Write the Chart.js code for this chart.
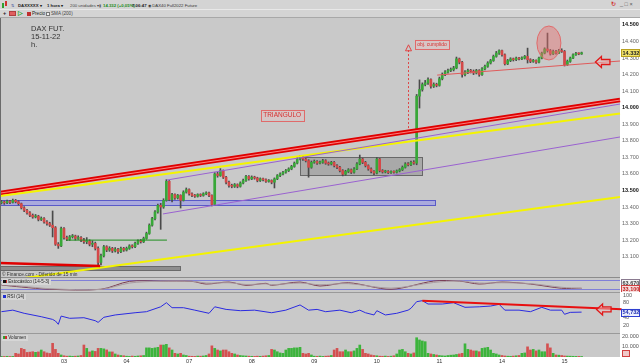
<!DOCTYPE html>
<html><head><meta charset="utf-8">
<script src="https://cdn.jsdelivr.net/npm/chart.js@4.4.1/dist/chart.umd.min.js"></script>
<style>
html,body{margin:0;padding:0}
body{width:640px;height:364px;overflow:hidden;background:#c9c9c9;position:relative;font-family:"Liberation Sans",Arial,sans-serif}
canvas{position:absolute;left:0}
.a{position:absolute}
.t{position:absolute;white-space:nowrap;font-size:5.5px;line-height:7px;color:#222}
.r1{font-size:4.3px;top:1.5px}
</style></head><body>
<div class="a" style="left:0;top:0;width:640px;height:18px;background:#d4d4d4"></div>
<div class="a" style="left:0;top:9px;width:640px;height:1px;background:#e8e8e8"></div>
<div class="a" style="left:0;top:17px;width:640px;height:1px;background:#a8a8a8"></div>
<div class="a" style="left:2px;top:3px;width:2px;height:5px;background:#30a030"></div>
<div class="a" style="left:5px;top:1px;width:2px;height:5px;background:#d03030"></div>
<div class="t r1" style="left:11px;color:#5060a0">&#8645;</div>
<div class="t r1" style="left:18px;font-weight:bold">DAXXXXX &#9662;</div>
<div class="t r1" style="left:47px;font-weight:bold">1 hora &#9662;</div>
<div class="t r1" style="left:70px;color:#444">200 unidades &#9662;</div>
<div class="t r1" style="left:99px;color:#666">&#9646;</div>
<div class="t r1" style="left:103px;color:#1a8a1a;font-weight:bold">14.332 (+0,05%)</div>
<div class="t r1" style="left:132px;font-weight:bold">7.06:47</div>
<div class="t r1" style="left:148px;color:#333">&#9673; DAX40 Full2022 Future</div>
<div class="t" style="left:3px;top:10px;font-weight:bold">+</div>
<div class="a" style="left:9px;top:11px;width:7px;height:5px;background:#e06060;border:1px solid #b04040;box-sizing:border-box"></div>
<div class="t" style="left:18px;top:10px;color:#20a020;font-weight:bold">&#9655;</div>
<div class="a" style="left:27px;top:12px;width:4px;height:4px;background:#c03030"></div>
<div class="t" style="left:32px;top:10px;font-size:4.6px">Precio</div>
<div class="a" style="left:46px;top:12px;width:4px;height:4px;border:1px solid #777;box-sizing:border-box;background:#eee"></div>
<div class="t" style="left:51px;top:10px;color:#444;font-size:4.6px">SMA (200)</div>
<div class="t" style="left:611px;top:1px;color:#d03030;font-weight:bold">&#8635;</div>
<div class="t" style="left:620px;top:1px;color:#555">_ &#9633; &#215;</div>

<canvas id="cMain" width="640" height="260" style="top:18px"></canvas>
<canvas id="cSto" width="640" height="14" style="top:278px"></canvas>
<canvas id="cRsi" width="640" height="41" style="top:292px"></canvas>
<canvas id="cVol" width="640" height="31" style="top:333px"></canvas>

<div class="a" style="left:0;top:277px;width:620px;height:1px;background:#8c8c8c"></div>
<div class="a" style="left:0;top:292px;width:620px;height:1px;background:#9a9a9a"></div>
<div class="a" style="left:0;top:333px;width:620px;height:1px;background:#9a9a9a"></div>
<div class="a" style="left:0;top:18px;width:1px;height:339px;background:#6a6a6a"></div>

<div class="t" style="left:31px;top:25px;font-size:7.5px;line-height:8px;color:#333">DAX FUT.</div>
<div class="t" style="left:31px;top:33px;font-size:7.5px;line-height:8px;color:#333">15-11-22</div>
<div class="t" style="left:31px;top:41px;font-size:7.5px;line-height:8px;color:#333">h.</div>
<div class="t" style="left:2px;top:271px;font-size:4.8px;color:#333">&#169; Finance.com - Diferido de 15 min</div>
<div class="t" style="left:2px;top:279px;font-size:4.6px;line-height:6px;background:#d6d6d6;padding:0 2px 0 1px"><span style="display:inline-block;width:3px;height:3px;background:#111;border-right:1px solid #c03030"></span> Estoc&#225;stico (14-5-3)</div>
<div class="t" style="left:2px;top:294px;font-size:4.6px;line-height:6px;background:#d6d6d6;padding:0 2px 0 1px"><span style="display:inline-block;width:3px;height:3px;background:#2030d0"></span> RSI (14)</div>
<div class="t" style="left:2px;top:335px;font-size:4.6px;line-height:6px;background:#d6d6d6;padding:0 2px 0 1px"><span style="display:inline-block;width:2px;height:3px;background:#30a030"></span><span style="display:inline-block;width:2px;height:3px;background:#d03030"></span> Volumen</div>

<script>
// ---------------- data ----------------
const dayTickIdx = [22, 44, 66, 88, 110, 132, 154, 176, 198];
const dayTickLabels = ['03', '04', '07', '08', '09', '10', '11', '14', '15'];

const opens = [
13425,13430,13425,13435,13428,13440,13432,13420,13395,13380,
13365,13350,13340,13345,13325,13330,13310,13300,13290,13275,
13175,13165,13270,13215,13205,13220,13225,13210,13215,13200,
13190,13195,13175,13180,13150,13065,13105,13160,13140,13150,
13135,13145,13130,13150,13140,13150,13165,13160,13180,13195,
13190,13210,13240,13290,13330,13370,13410,13400,13440,13555,
13445,13475,13455,13470,13440,13490,13505,13480,13470,13465,
13475,13470,13480,13485,13470,13415,13600,13590,13620,13580,
13550,13530,13525,13535,13525,13545,13560,13585,13570,13580,
13575,13560,13570,13565,13555,13560,13550,13570,13590,13600,
13610,13620,13630,13645,13665,13690,13700,13690,13680,13640,
13670,13675,13665,13670,13680,13665,13660,13670,13650,13640,
13620,13598,13615,13625,13610,13630,13660,13690,13670,13650,
13630,13615,13605,13690,13620,13612,13615,13608,13612,13610,
13618,13625,13640,13660,13655,13670,13665,14070,14110,14140,
14150,14170,14130,14140,14135,14175,14200,14215,14225,14230,
14240,14295,14275,14200,14215,14225,14220,14210,14225,14200,
14235,14250,14270,14285,14310,14330,14345,14320,14265,14285,
14295,14290,14300,14295,14300,14310,14290,14280,14285,14275,
14300,14330,14355,14345,14325,14340,14330,14345,14340,14260,
14280,14300,14320,14328,14325];
const highs = [
13440,13436,13442,13440,13448,13446,13438,13424,13402,13386,
13372,13358,13355,13350,13340,13336,13318,13308,13376,13282,
13185,13278,13275,13224,13228,13234,13230,13226,13222,13210,
13215,13202,13196,13188,13160,13115,13168,13166,13160,13156,
13155,13150,13158,13156,13158,13172,13172,13188,13202,13204,
13218,13248,13298,13338,13378,13418,13422,13450,13565,13560,
13482,13480,13476,13474,13498,13515,13510,13486,13476,13480,
13480,13486,13492,13490,13474,13608,13610,13632,13624,13586,
13556,13538,13542,13540,13552,13568,13592,13590,13588,13586,
13580,13576,13575,13570,13566,13564,13576,13596,13606,13616,
13627,13637,13652,13672,13698,13712,13708,13696,13686,13678,
13684,13680,13678,13688,13686,13672,13676,13675,13656,13646,
13626,13622,13632,13630,13638,13668,13714,13695,13676,13655,
13636,13620,13698,13694,13626,13622,13620,13618,13618,13624,
13632,13648,13668,13668,13678,13680,14080,14168,14150,14165,
14180,14175,14150,14148,14185,14210,14224,14234,14240,14250,
14306,14300,14280,14225,14234,14232,14228,14232,14230,14242,
14258,14278,14292,14318,14340,14350,14348,14325,14292,14302,
14300,14306,14304,14308,14316,14360,14296,14292,14290,14306,
14336,14362,14451,14352,14348,14346,14352,14356,14346,14288,
14306,14326,14334,14332,14336];
const lows = [
13418,13416,13420,13420,13424,13425,13412,13388,13372,13356,
13342,13332,13334,13316,13318,13302,13290,13282,13219,13168,
13150,13160,13205,13196,13198,13212,13200,13204,13190,13180,
13178,13165,13160,13140,13040,13050,13098,13130,13132,13125,
13128,13120,13124,13132,13134,13144,13152,13155,13174,13182,
13185,13205,13235,13284,13322,13362,13265,13392,13435,13438,
13430,13446,13448,13394,13436,13484,13472,13462,13458,13460,
13463,13465,13474,13462,13406,13410,13580,13585,13572,13540,
13520,13516,13518,13516,13520,13540,13555,13562,13565,13568,
13552,13554,13558,13548,13550,13540,13515,13565,13584,13594,
13604,13614,13625,13640,13660,13684,13682,13672,13580,13634,
13664,13658,13660,13664,13658,13652,13654,13642,13632,13612,
13588,13592,13608,13602,13605,13625,13655,13662,13642,13622,
13606,13596,13600,13612,13605,13606,13602,13603,13604,13605,
13612,13620,13635,13648,13650,13658,13655,13998,14100,14132,
14140,14118,14122,14126,14130,14168,14194,14208,14218,14222,
14235,14265,14185,14192,14206,14210,14200,14204,14190,14195,
14228,14244,14264,14280,14305,14322,14312,14258,14260,14278,
14282,14284,14288,14290,14294,14270,14272,14274,14268,14270,
14295,14325,14336,14318,14320,14324,14326,14334,14252,14255,
14274,14296,14316,14320,14322];
const closes = [
13430,13425,13435,13428,13440,13432,13420,13395,13380,13365,
13350,13340,13345,13325,13330,13310,13300,13290,13275,13175,
13165,13270,13215,13205,13220,13225,13210,13215,13200,13190,
13195,13175,13180,13150,13065,13105,13160,13140,13150,13135,
13145,13130,13150,13140,13150,13165,13160,13180,13195,13190,
13210,13240,13290,13330,13370,13410,13400,13440,13555,13445,
13475,13455,13470,13440,13490,13505,13480,13470,13465,13475,
13470,13480,13485,13470,13415,13600,13590,13620,13580,13550,
13530,13525,13535,13525,13545,13560,13585,13570,13580,13575,
13560,13570,13565,13555,13560,13550,13570,13590,13600,13610,
13620,13630,13645,13665,13690,13700,13690,13680,13640,13670,
13675,13665,13670,13680,13665,13660,13670,13650,13640,13620,
13598,13615,13625,13610,13630,13660,13690,13670,13650,13630,
13615,13605,13690,13620,13612,13615,13608,13612,13610,13618,
13625,13640,13660,13655,13670,13665,14070,14110,14140,14150,
14170,14130,14140,14135,14175,14200,14215,14225,14230,14240,
14295,14275,14200,14215,14225,14220,14210,14225,14200,14235,
14250,14270,14285,14310,14330,14345,14320,14265,14285,14295,
14290,14300,14295,14300,14310,14290,14280,14285,14275,14300,
14330,14355,14345,14325,14340,14330,14345,14340,14260,14280,
14300,14320,14328,14325,14332];
const volumes = [
600,500,700,500,600,3600,3000,8500,7500,4500,
4800,5200,4600,5000,6900,5200,4000,3500,13500,7500,
3600,2000,1200,800,900,700,800,1000,1500,11800,
8500,5000,6000,5500,8500,8500,8000,7000,5000,5000,
3000,2000,1500,1200,800,600,900,700,1000,1200,
1500,9000,9000,8500,9000,9500,11800,11800,12500,9000,
6900,3600,3000,3600,2000,1500,800,700,600,900,
800,1000,1500,3000,11000,8500,6900,6000,6900,6900,
5200,3600,3000,2000,1500,1200,1000,800,700,600,
800,700,900,1200,1500,7500,6900,5200,4000,3600,
6900,8500,8500,9000,9000,9500,3600,3000,3600,2000,
800,700,900,600,800,1000,1500,6900,8500,5200,
5200,6900,5200,5200,6000,8500,11800,7500,3600,3000,
2000,1500,1200,800,700,900,600,800,1200,3000,
6900,7500,5200,3600,3000,4000,19000,16800,15800,15100,
3600,3000,2500,2000,1500,1200,1000,1500,1800,2000,
2500,3000,3600,13000,7500,6900,6000,6000,5200,8500,
9000,9500,6900,3600,3000,2000,1500,1000,800,700,
900,1200,1500,3600,4000,10000,6900,7500,6000,6900,
5200,5200,13000,9000,3600,2000,1800,1500,1000,900,
800,700,600,600,500];

const priceTicks = [13100,13200,13300,13400,13500,13600,13700,13800,13900,14000,14100,14200,14300,14400,14500];
const lastPriceLabel = '14.332';

const rsiIdx = [0,4,8,14,18,19,20,21,24,29,33,34,36,40,47,51,56,58,60,64,68,73,75,79,84,89,95,100,105,108,111,114,119,123,126,128,131,132,135,139,143,144,146,148,150,155,159,163,168,172,175,177,182,186,190,193,197,198,200,204];
const rsiVals = [55.8,60,51.5,42.3,35,30.7,21.8,44,38,39.6,31.5,27,40.7,47,53,55.8,69,80,66.6,66.6,60,51.5,69,62,58.5,60,53,60,74,60,62,55.8,60,53,60,53,47,58.5,47,51.5,60,65,82.8,85.5,76.5,76.5,80,67.6,69,71,75.7,60,60,55.8,67.6,60,60,48.8,54,54.7];
const rsiTicks = [20, 40, 80, 100];
const rsiLastLabel = '54,732';

const stochIdx = [0,7,17,35,45,56,67,72,80,86,93,95,105,112,122,137,152,161,168,176,186,197,204];
const stochK = [48,34,18,18,74,76,74,55,69,46,60,46,69,41,64,18,76,76,55,69,55,25,25];
const stochD = [50,40,22,17,62,75,75,62,64,52,56,50,62,50,58,26,66,77,62,64,58,32,24];
const stochLevels = [20, 80];

const volTicks = [10000, 20000];

// ---------------- drawings (index, price) ----------------
const redChannel  = [-0.5, 13484, 217.5, 14046];
const yellowUpper = [-0.5, 13466, 217.5, 13965];
const purpleUpper = [58.2, 13563, 217.5, 14022];
const purpleLower = [56.8, 13358, 217.5, 13823];
const yellowLower = [3.0, 12959, 217.5, 13460];
const redLow      = [-0.5, 13061, 34.7, 13043];
const redTop      = [153.2, 14197, 217.5, 14282];
const greenLevel  = [22.7, 13200, 58.2, 13200];
const blueBand    = [-0.5, 13412, 152.5, 13442];
const greyBox     = [105, 13593, 147.9, 13702];
const greyBar     = [-0.5, 13019, 62.8, 13043];
const targetArrow = [143, 13877, 14380];
const triLabel    = [98.7, 13956, 'TRIANGULO'];
const objLabel    = [151.4, 14382, 'obj. cumplido'];
const peakEllipse = [192.5, 14391];
const priceArrow  = [211.5, 14276];
const rsiTrend    = [148, 85.5, 218.2, 62.3];
const rsiArrow    = [211.9, 62];

// ---------------- helpers ----------------
const X_MIN = -0.5, X_MAX = 217.5;
const fmtK = v => (v / 1000).toFixed(3);
const common = {
  responsive: false, animation: false, events: [],
  plugins: { legend: { display: false }, tooltip: { enabled: false } },
  layout: { padding: 0 }
};
const fitRight = s => { s.width = 20; s.paddingTop = 0; s.paddingBottom = 0; };
const xHidden = { type: 'linear', min: X_MIN, max: X_MAX, offset: false, display: false };
const whiteStrip = {
  id: 'whiteStrip',
  beforeDraw(chart) {
    const { ctx, chartArea: a } = chart;
    ctx.save();
    ctx.fillStyle = '#ffffff';
    ctx.fillRect(a.right, 0, chart.width - a.right, chart.height);
    if (a.bottom < chart.height) ctx.fillRect(0, a.bottom, a.right, chart.height - a.bottom);
    ctx.restore();
  }
};
function P(chart, i, v) { return [chart.scales.x.getPixelForValue(i), chart.scales.y.getPixelForValue(v)]; }
function seg(ctx, chart, L, color, w) {
  const [x1, y1] = P(chart, L[0], L[1]), [x2, y2] = P(chart, L[2], L[3]);
  ctx.beginPath(); ctx.moveTo(x1, y1); ctx.lineTo(x2, y2);
  ctx.strokeStyle = color; ctx.lineWidth = w; ctx.stroke();
}
function rect(ctx, chart, R, fill, stroke) {
  const [x1, y1] = P(chart, R[0], R[1]), [x2, y2] = P(chart, R[2], R[3]);
  ctx.fillStyle = fill; ctx.fillRect(x1, Math.min(y1, y2), x2 - x1, Math.abs(y2 - y1));
  ctx.strokeStyle = stroke; ctx.lineWidth = 1;
  ctx.strokeRect(Math.round(x1) + 0.5, Math.round(Math.min(y1, y2)) + 0.5, Math.round(x2 - x1), Math.round(Math.abs(y2 - y1)));
}
function leftArrow(ctx, cx, cy) {
  ctx.beginPath();
  ctx.moveTo(cx - 7.5, cy); ctx.lineTo(cx - 1.5, cy - 5.5); ctx.lineTo(cx - 1.5, cy - 2.5);
  ctx.lineTo(cx + 7, cy - 2.5); ctx.lineTo(cx + 7, cy + 2.5); ctx.lineTo(cx - 1.5, cy + 2.5);
  ctx.lineTo(cx - 1.5, cy + 5.5); ctx.closePath();
  ctx.fillStyle = 'rgba(235,190,190,0.5)'; ctx.fill();
  ctx.strokeStyle = '#e01818'; ctx.lineWidth = 1.3; ctx.stroke();
}
function boxLabel(ctx, cx, cy, text, size) {
  ctx.font = size + 'px "Liberation Sans", Arial, sans-serif';
  const w = ctx.measureText(text).width + 5, h = size + 4;
  ctx.fillStyle = 'rgba(225,195,195,0.55)';
  ctx.fillRect(cx - w / 2, cy - h / 2, w, h);
  ctx.strokeStyle = '#e06a6a'; ctx.lineWidth = 1;
  ctx.strokeRect(Math.round(cx - w / 2) + 0.5, Math.round(cy - h / 2) + 0.5, Math.round(w), Math.round(h));
  ctx.fillStyle = '#d83030'; ctx.textAlign = 'center'; ctx.textBaseline = 'middle';
  ctx.fillText(text, cx, cy + 0.5);
}
function valueBox(ctx, x, cy, text, bg, border, color) {
  ctx.font = 'bold 5.5px "Liberation Sans", Arial, sans-serif';
  ctx.fillStyle = bg; ctx.fillRect(x, cy - 3.5, 19, 7);
  ctx.strokeStyle = border; ctx.lineWidth = 1; ctx.strokeRect(x + 0.5, Math.round(cy - 3.5) + 0.5, 18, 7);
  ctx.fillStyle = color; ctx.textAlign = 'left'; ctx.textBaseline = 'middle';
  ctx.fillText(text, x + 1.5, cy + 0.5);
}

// ---------------- main price chart ----------------
const idx = closes.map((_, i) => i);
const bodyColors = idx.map(i => closes[i] > opens[i] ? '#38a838' : (closes[i] < opens[i] ? '#d44848' : '#707070'));

const mainDrawings = {
  id: 'mainDrawings',
  beforeDatasetsDraw(chart) {
    const ctx = chart.ctx; ctx.save();
    rect(ctx, chart, blueBand, 'rgba(150,150,235,0.6)', '#5a5ac8');
    rect(ctx, chart, greyBox, 'rgba(110,110,110,0.35)', '#686868');
    rect(ctx, chart, greyBar, '#8e8e8e', '#6a6a6a');
    ctx.restore();
  },
  afterDatasetsDraw(chart) {
    const ctx = chart.ctx; ctx.save();
    seg(ctx, chart, redChannel, '#e00000', 4.5);
    seg(ctx, chart, redChannel, 'rgba(255,140,140,0.9)', 1);
    seg(ctx, chart, yellowUpper, '#f4f400', 2);
    seg(ctx, chart, yellowLower, '#f4f400', 2);
    seg(ctx, chart, purpleUpper, '#9a62d0', 1);
    seg(ctx, chart, purpleLower, '#9a62d0', 1);
    seg(ctx, chart, redLow, '#e00000', 2.5);
    seg(ctx, chart, redTop, '#e05a5a', 1);
    seg(ctx, chart, greenLevel, '#1f8f1f', 1);
    const [ax, ay1] = P(chart, targetArrow[0], targetArrow[1]);
    const [, ay2] = P(chart, targetArrow[0], targetArrow[2]);
    const axr = Math.round(ax) + 0.5;
    ctx.setLineDash([2, 2]); ctx.strokeStyle = '#e04444'; ctx.lineWidth = 1;
    ctx.beginPath(); ctx.moveTo(axr, ay1); ctx.lineTo(axr, ay2 + 5); ctx.stroke();
    ctx.setLineDash([]);
    ctx.beginPath(); ctx.moveTo(axr, ay2); ctx.lineTo(axr - 3, ay2 + 6); ctx.lineTo(axr + 3, ay2 + 6); ctx.closePath();
    ctx.stroke();
    const [tx, ty] = P(chart, triLabel[0], triLabel[1]); boxLabel(ctx, tx, ty, triLabel[2], 6.5);
    const [ox, oy] = P(chart, objLabel[0], objLabel[1]); boxLabel(ctx, ox, oy, objLabel[2], 5);
    const [ex, ey] = P(chart, peakEllipse[0], peakEllipse[1]);
    ctx.beginPath(); ctx.ellipse(ex, ey, 12, 17, 0, 0, Math.PI * 2);
    ctx.fillStyle = 'rgba(235,110,110,0.42)'; ctx.fill();
    ctx.strokeStyle = '#e06a6a'; ctx.lineWidth = 1; ctx.stroke();
    const [sx, sy] = P(chart, priceArrow[0], priceArrow[1]); leftArrow(ctx, sx, sy);
    ctx.restore();
  },
  afterDraw(chart) {
    const ctx = chart.ctx; ctx.save();
    const y = chart.scales.y.getPixelForValue(closes[closes.length - 1]);
    valueBox(ctx, chart.chartArea.right + 1, y, lastPriceLabel, '#f2e36a', '#b8a020', '#222');
    ctx.restore();
  }
};

new Chart(document.getElementById('cMain'), {
  type: 'bar',
  data: { datasets: [
    { data: idx.map(i => ({ x: i, y: [opens[i], closes[i]] })), backgroundColor: bodyColors,
      barThickness: 2, grouped: false, minBarLength: 1, order: 0 },
    { data: idx.map(i => ({ x: i, y: [lows[i], highs[i]] })), backgroundColor: '#4a4a4a',
      barThickness: 1, grouped: false, order: 1 }
  ] },
  options: { ...common,
    scales: {
      x: xHidden,
      y: { position: 'right', min: 12971, max: 14542,
        grid: { display: false, drawTicks: false }, border: { display: false },
        afterBuildTicks: s => { s.ticks = priceTicks.map(v => ({ value: v })); },
        afterFit: fitRight,
        ticks: { padding: 2, autoSkip: false, callback: v => fmtK(v),
          font: c => ({ family: '"Liberation Sans", Arial, sans-serif', size: 5.5, weight: (c.tick && c.tick.value % 500 === 0) ? 'bold' : 'normal' }),
          color: c => (c.tick && c.tick.value % 500 === 0) ? '#111' : '#666' } }
    } },
  plugins: [whiteStrip, mainDrawings]
});

// ---------------- stochastic ----------------
const stoLevels = {
  id: 'stoLevels',
  beforeDatasetsDraw(chart) {
    const { ctx, chartArea: a } = chart; ctx.save();
    ctx.strokeStyle = '#8080d8'; ctx.lineWidth = 1;
    stochLevels.forEach(v => { const y = Math.round(chart.scales.y.getPixelForValue(v)) + 0.5;
      ctx.beginPath(); ctx.moveTo(a.left, y); ctx.lineTo(a.right, y); ctx.stroke(); });
    ctx.restore();
  },
  afterDraw(chart) {
    const ctx = chart.ctx; ctx.save();
    valueBox(ctx, chart.chartArea.right + 1, 4.5, '63,670', '#f4f4f4', '#8a7a90', '#444');
    valueBox(ctx, chart.chartArea.right + 1, 10.5, '33,100', '#f6dede', '#d04040', '#c02020');
    ctx.restore();
  }
};
new Chart(document.getElementById('cSto'), {
  type: 'line',
  data: { datasets: [
    { data: stochIdx.map((x, k) => ({ x, y: stochD[k] })), borderColor: '#a89aa0', borderWidth: 1, pointRadius: 0, tension: 0.3 },
    { data: stochIdx.map((x, k) => ({ x, y: stochK[k] })), borderColor: '#7a3c50', borderWidth: 1, pointRadius: 0, tension: 0.3 }
  ] },
  options: { ...common,
    scales: { x: xHidden,
      y: { position: 'right', min: -1.2, max: 97.6, grid: { display: false, drawTicks: false }, border: { display: false },
        afterFit: fitRight, ticks: { display: false } } } },
  plugins: [whiteStrip, stoLevels]
});

// ---------------- RSI ----------------
const rsiDraw = {
  id: 'rsiDraw',
  afterDatasetsDraw(chart) {
    const ctx = chart.ctx; ctx.save();
    seg(ctx, chart, rsiTrend, '#e81010', 2);
    const [ax, ay] = P(chart, rsiArrow[0], rsiArrow[1]); leftArrow(ctx, ax, ay);
    ctx.restore();
  },
  afterDraw(chart) {
    const ctx = chart.ctx; ctx.save();
    const y = chart.scales.y.getPixelForValue(rsiVals[rsiVals.length - 1]);
    valueBox(ctx, chart.chartArea.right + 1, y, rsiLastLabel, '#e8ecff', '#3040d0', '#2030b0');
    ctx.restore();
  }
};
new Chart(document.getElementById('cRsi'), {
  type: 'line',
  data: { datasets: [
    { data: rsiIdx.map((x, k) => ({ x, y: rsiVals[k] })), borderColor: '#2a2ae0', borderWidth: 1, pointRadius: 0, tension: 0 }
  ] },
  options: { ...common,
    scales: { x: xHidden,
      y: { position: 'right', min: -1.6, max: 108.9, grid: { display: false, drawTicks: false }, border: { display: false },
        afterBuildTicks: s => { s.ticks = rsiTicks.map(v => ({ value: v })); },
        afterFit: fitRight,
        ticks: { padding: 3, autoSkip: false, color: '#555', font: { family: '"Liberation Sans", Arial, sans-serif', size: 5.5 } } } } },
  plugins: [whiteStrip, rsiDraw]
});

// ---------------- volume ----------------
const volColors = idx.map(i => closes[i] >= opens[i] ? '#3cb43c' : '#d45050');
const volDraw = {
  id: 'volDraw',
  afterDraw(chart) {
    const ctx = chart.ctx; ctx.save();
    const y = chart.scales.y.getPixelForValue(volumes[volumes.length - 1]) - 3;
    ctx.fillStyle = '#f0c8c8'; ctx.fillRect(chart.chartArea.right + 2, y - 3, 8, 6);
    ctx.strokeStyle = '#d04040'; ctx.strokeRect(chart.chartArea.right + 2.5, Math.round(y - 3) + 0.5, 7, 6);
    ctx.restore();
  }
};
new Chart(document.getElementById('cVol'), {
  type: 'bar',
  data: { datasets: [
    { data: idx.map(i => ({ x: i, y: volumes[i] })), backgroundColor: volColors, barThickness: 2, grouped: false }
  ] },
  options: { ...common,
    scales: {
      x: { type: 'linear', min: X_MIN, max: X_MAX, offset: false, position: 'bottom',
        grid: { display: false, drawTicks: false }, border: { display: false },
        afterBuildTicks: s => { s.ticks = dayTickIdx.map(v => ({ value: v })); },
        afterFit: s => { s.height = 7; s.paddingLeft = 0; s.paddingRight = 0; },
        ticks: { autoSkip: false, maxRotation: 0, padding: 1, color: '#333',
          font: { family: '"Liberation Sans", Arial, sans-serif', size: 5.5 },
          callback: v => { const k = dayTickIdx.indexOf(v); return k >= 0 ? dayTickLabels[k] : ''; } } },
      y: { position: 'right', min: 0, max: 23645, grid: { display: false, drawTicks: false }, border: { display: false },
        afterBuildTicks: s => { s.ticks = volTicks.map(v => ({ value: v })); },
        afterFit: fitRight,
        ticks: { padding: 2, autoSkip: false, color: '#555', callback: v => fmtK(v),
          font: { family: '"Liberation Sans", Arial, sans-serif', size: 5.5 } } }
    } },
  plugins: [whiteStrip, volDraw]
});
</script>
</body></html>
